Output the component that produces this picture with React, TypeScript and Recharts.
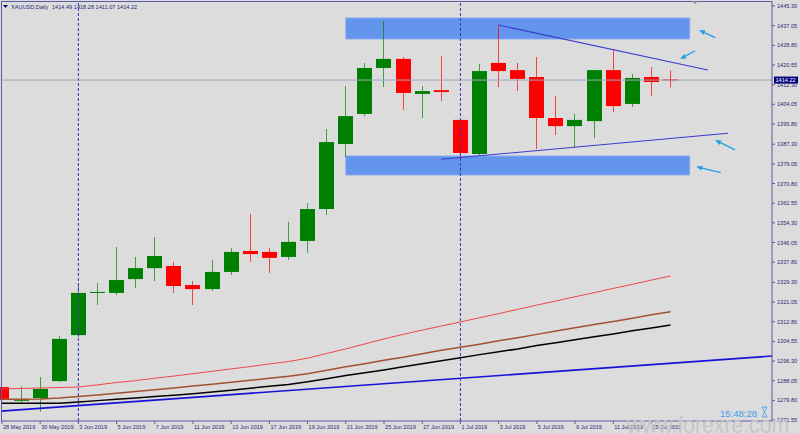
import {
  ComposedChart, Bar, Line, XAxis, YAxis, ReferenceArea, ReferenceLine,
} from 'recharts'

const dates = [
  '28 May 2019', '29 May 2019', '30 May 2019', '31 May 2019',
  '3 Jun 2019', '4 Jun 2019', '5 Jun 2019', '6 Jun 2019', '7 Jun 2019',
  '10 Jun 2019', '11 Jun 2019', '12 Jun 2019', '13 Jun 2019', '14 Jun 2019',
  '17 Jun 2019', '18 Jun 2019', '19 Jun 2019', '20 Jun 2019', '21 Jun 2019',
  '24 Jun 2019', '25 Jun 2019', '26 Jun 2019', '27 Jun 2019', '28 Jun 2019',
  '1 Jul 2019', '2 Jul 2019', '3 Jul 2019', '4 Jul 2019', '5 Jul 2019',
  '8 Jul 2019', '9 Jul 2019', '10 Jul 2019', '11 Jul 2019', '12 Jul 2019',
  '15 Jul 2019', '16 Jul 2019',
]

const opens = [
  1285.4, 1279.6, 1280.8, 1287.9, 1307.2, 1324.9, 1324.9, 1330.7, 1335.3,
  1336.2, 1328.2, 1326.5, 1333.7, 1342.5, 1342.1, 1340.0, 1346.7, 1360.1,
  1387.4, 1400.0, 1419.3, 1423.1, 1408.4, 1410.0, 1397.5, 1383.2, 1421.4,
  1418.4, 1415.5, 1398.3, 1394.9, 1397.0, 1418.4, 1404.2, 1415.5, 1414.49,
]
const highs = [
  1287.1, 1285.8, 1289.6, 1306.8, 1328.6, 1329.1, 1344.2, 1340.0, 1348.4,
  1337.9, 1329.9, 1338.7, 1343.7, 1358.0, 1343.7, 1354.7, 1362.6, 1393.7,
  1411.7, 1421.4, 1439.0, 1423.9, 1411.7, 1424.3, 1397.7, 1421.0, 1437.3,
  1421.4, 1423.9, 1407.5, 1400.0, 1418.4, 1427.3, 1416.8, 1419.7, 1418.28,
]
const lows = [
  1276.6, 1278.7, 1275.0, 1287.5, 1306.4, 1319.8, 1324.0, 1327.0, 1329.9,
  1324.9, 1319.8, 1325.7, 1332.4, 1337.9, 1333.3, 1338.7, 1341.7, 1357.6,
  1381.9, 1399.1, 1411.3, 1401.7, 1398.3, 1405.4, 1381.9, 1382.8, 1411.3,
  1409.6, 1385.3, 1391.2, 1385.7, 1389.9, 1400.8, 1402.9, 1407.5, 1411.07,
]
const closes = [
  1280.0, 1280.4, 1284.6, 1305.6, 1324.9, 1325.3, 1330.3, 1335.3, 1340.4,
  1327.8, 1326.5, 1333.7, 1342.1, 1341.2, 1339.6, 1346.3, 1360.1, 1388.2,
  1399.1, 1419.3, 1423.1, 1408.8, 1409.6, 1409.2, 1383.6, 1418.0, 1418.0,
  1414.7, 1398.3, 1394.9, 1397.5, 1418.4, 1403.3, 1415.1, 1413.4, 1414.22,
]

// moving averages
const maRed = [
  1284.6, 1284.8, 1285.0, 1285.2, 1285.4, 1286.3, 1287.3, 1288.1, 1289.1,
  1290.0, 1291.0, 1292.0, 1293.0, 1294.0, 1295.1, 1296.1, 1297.5, 1299.5,
  1301.4, 1303.5, 1305.6, 1307.5, 1309.3, 1311.0, 1312.7, 1314.5, 1316.2,
  1318.0, 1319.8, 1321.5, 1323.3, 1325.0, 1326.8, 1328.5, 1330.3, 1332.0,
]
const maBrown = [
  1280.3, 1280.3, 1280.4, 1280.8, 1281.4, 1282.1, 1282.8, 1283.5, 1284.3,
  1285.0, 1285.8, 1286.6, 1287.4, 1288.2, 1289.1, 1289.9, 1291.0, 1292.4,
  1293.9, 1295.2, 1296.6, 1297.9, 1299.4, 1300.8, 1302.1, 1303.4, 1304.8,
  1306.1, 1307.5, 1308.9, 1310.3, 1311.6, 1312.9, 1314.3, 1315.7, 1317.0,
]
const maBlack = [
  1278.6, 1278.6, 1278.6, 1278.6, 1279.1, 1279.7, 1280.3, 1280.8, 1281.4,
  1282.0, 1282.6, 1283.3, 1284.1, 1284.9, 1285.7, 1286.5, 1287.6, 1288.9,
  1290.2, 1291.4, 1292.6, 1293.9, 1295.2, 1296.4, 1297.7, 1299.0, 1300.2,
  1301.4, 1302.8, 1304.0, 1305.2, 1306.5, 1307.7, 1309.0, 1310.2, 1311.4,
]

const yTicks = [
  1445.30, 1437.05, 1428.80, 1420.55, 1412.30, 1404.05, 1395.80, 1387.30,
  1379.05, 1370.80, 1362.55, 1354.30, 1346.05, 1337.80, 1329.30, 1321.05,
  1312.80, 1304.55, 1296.30, 1288.05, 1279.80, 1271.55,
]
const xTicks = [0, 2, 4, 6, 8, 10, 12, 14, 16, 18, 20, 22, 24, 26, 28, 30, 32, 34]

// drawn objects: zones [x1, x2, yLow, yHigh], lines [x1, y1, x2, y2]
const zones = [
  [18, 36, 1431.45, 1440.26],
  [18, 36, 1374.38, 1382.35],
]
const trendLines = [
  [26, 1437.3, 36.95, 1418.44],
  [23, 1380.97, 38, 1391.88],
]
const longTrend = [-0.05, 1275.3, 40.31, 1298.4]
const arrows = [
  [37.33, 1432.0, 36.49, 1435.23],
  [36.28, 1426.54, 35.5, 1423.06],
  [38.38, 1384.9, 37.33, 1389.07],
  [37.63, 1375.35, 36.34, 1377.86],
]
const vLines = [4, 24]

const AXIS = '#5a5aa8'
const TXT = '#2a2a78'
const FONT = '"Liberation Sans", Arial, sans-serif'

const rows = dates.map((d, i) => ({
  i,
  date: d,
  open: opens[i],
  high: highs[i],
  low: lows[i],
  close: closes[i],
  range: [lows[i], highs[i]],
  maRed: maRed[i],
  maBrown: maBrown[i],
  maBlack: maBlack[i],
}))

const Candle = (props: any) => {
  const { x, y, width, height, payload } = props
  const { open, close, high, low } = payload
  const top = Math.min(y, y + height)
  const h = Math.abs(height)
  const k = high > low ? h / (high - low) : 0
  const py = (v: number) => top + (high - v) * k
  const up = close >= open
  const color = up ? '#008000' : '#ff0000'
  const cx = Math.floor(x + width / 2) + 0.5
  const bTop = py(Math.max(open, close))
  const bH = Math.max(py(Math.min(open, close)) - bTop, 1)
  return (
    <g>
      <line x1={cx} x2={cx} y1={top} y2={top + h} stroke={color} strokeOpacity={0.7} />
      <rect x={cx - 7.5} y={bTop} width={15} height={bH} fill={color} />
    </g>
  )
}

const Arrow = (props: any) => {
  const { x1, y1, x2, y2 } = props
  const a = Math.atan2(y2 - y1, x2 - x1)
  const len = 6
  const w = 2.5
  const bx = x2 - len * Math.cos(a)
  const by = y2 - len * Math.sin(a)
  const pts = [
    `${x2},${y2}`,
    `${bx + w * Math.sin(a)},${by - w * Math.cos(a)}`,
    `${bx - w * Math.sin(a)},${by + w * Math.cos(a)}`,
  ].join(' ')
  return (
    <g>
      <line x1={x1} y1={y1} x2={bx} y2={by} stroke="#1ea0e6" strokeWidth={1.3} />
      <polygon points={pts} fill="#1ea0e6" />
    </g>
  )
}

const XTick = (props: any) => {
  const { x, y, payload } = props
  return (
    <text x={x + 1} y={y} dy="0.71em" fontSize={5.6} fill={TXT} fontFamily={FONT}>
      {dates[payload.value]}
    </text>
  )
}

const PriceTag = (props: any) => {
  const { viewBox } = props
  const x = viewBox.x + viewBox.width + 2
  const y = viewBox.y
  return (
    <g>
      <rect x={x} y={y - 3.5} width={24} height={7} fill="#000080" />
      <text x={x + 1.5} y={y} dy="0.355em" fontSize={5.6} fill="#ffffff" fontFamily={FONT}>
        {closes[closes.length - 1].toFixed(2)}
      </text>
    </g>
  )
}

export default function App() {
  return (
    <div style={{ position: 'fixed', left: 0, top: 0, width: 800, height: 434, background: '#dcdcdc', overflow: 'hidden' }}>
      <ComposedChart
        width={800}
        height={434}
        data={rows}
        margin={{ top: 1, left: 1, right: 0, bottom: 0 }}
      >
        <XAxis
          dataKey="i"
          type="number"
          domain={[-0.05, 40.31]}
          ticks={xTicks}
          tick={<XTick />}
          tickSize={3}
          tickMargin={1}
          height={13}
          stroke={AXIS}
          interval={0}
        />
        <YAxis
          orientation="right"
          type="number"
          domain={[1271.15, 1447.4]}
          ticks={yTicks}
          tickFormatter={(v: number) => v.toFixed(2)}
          tick={{ fontSize: 5.6, fill: TXT, fontFamily: FONT }}
          tickSize={3}
          tickMargin={2}
          width={28}
          stroke={AXIS}
          interval={0}
        />
        {zones.map((z, k) => (
          <ReferenceArea
            key={'z' + k}
            x1={z[0]} x2={z[1]} y1={z[2]} y2={z[3]}
            fill="#6495ed" fillOpacity={1} stroke="#88aaee" strokeWidth={1}
          />
        ))}
        {vLines.map((v) => (
          <ReferenceLine key={'v' + v} x={v} stroke="#3434c0" strokeDasharray="3 2" />
        ))}
        <ReferenceLine
          y={closes[closes.length - 1]}
          stroke="#9ea6b8"
          label={<PriceTag />}
        />
        <Line dataKey="maRed" stroke="#f04848" strokeWidth={1} dot={false} isAnimationActive={false} />
        <Line dataKey="maBrown" stroke="#a0522d" strokeWidth={1.5} dot={false} isAnimationActive={false} />
        <Line dataKey="maBlack" stroke="#000000" strokeWidth={1.5} dot={false} isAnimationActive={false} />
        <ReferenceLine
          segment={[{ x: longTrend[0], y: longTrend[1] }, { x: longTrend[2], y: longTrend[3] }]}
          stroke="#1414d8"
          strokeWidth={1.6}
        />
        <Bar dataKey="range" barSize={15} shape={<Candle />} isAnimationActive={false} />
        {trendLines.map((t, k) => (
          <ReferenceLine
            key={'t' + k}
            segment={[{ x: t[0], y: t[1] }, { x: t[2], y: t[3] }]}
            stroke="#3a3ad0"
            strokeWidth={1.1}
          />
        ))}
        {arrows.map((a, k) => (
          <ReferenceLine
            key={'a' + k}
            segment={[{ x: a[0], y: a[1] }, { x: a[2], y: a[3] }]}
            shape={Arrow}
          />
        ))}
      </ComposedChart>
      <svg width={800} height={434} style={{ position: 'absolute', left: 0, top: 0, pointerEvents: 'none' }}>
        <line x1={1.5} y1={1} x2={1.5} y2={421} stroke={AXIS} />
        <line x1={1} y1={1.5} x2={772} y2={1.5} stroke={AXIS} />
        <polygon points="3,5 8,5 5.5,8" fill="#000080" />
        <text x={11} y={8.5} fontSize={5.6} fill={TXT} fontFamily={FONT}>XAUUSD,Daily</text>
        <text x={52} y={8.5} fontSize={5.6} fill={TXT} fontFamily={FONT}>1414.49 1418.28 1411.07 1414.22</text>
        <polygon points="692,1 698,1 695,4" fill="#8a8a9a" />
        <text x={627} y={433} fontSize={24} fill="#c6c6c6" fontFamily={FONT} textLength={162} lengthAdjust="spacingAndGlyphs">www.forexre.com</text>
        <text x={720} y={417} fontSize={9.5} fill="#3d9bf0" fontFamily={FONT}>15:48:28</text>
        <path d="M762,407 L767,407 L764.5,412 Z M762,417 L767,417 L764.5,412 Z" fill="none" stroke="#3d9bf0" strokeWidth={0.8} />
      </svg>
    </div>
  )
}
